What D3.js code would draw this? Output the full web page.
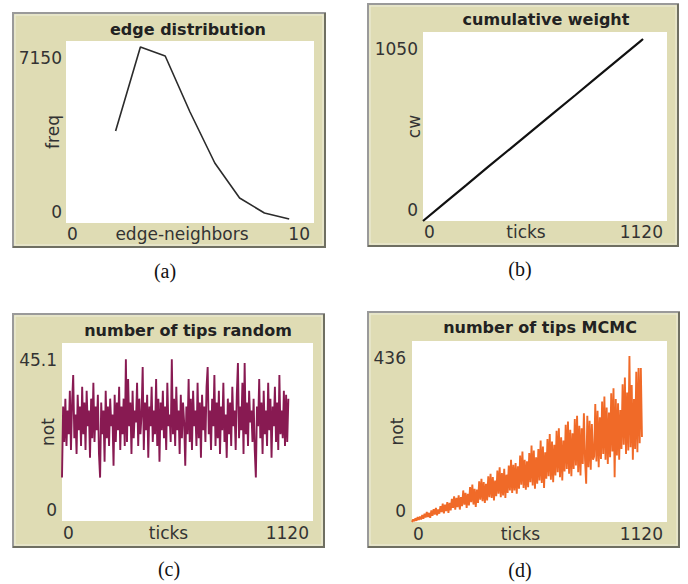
<!DOCTYPE html>
<html>
<head>
<meta charset="utf-8">
<script src="https://cdn.jsdelivr.net/npm/d3@7"></script>
<style>
  body { margin: 0; background: #fff; }
  .title { font-family: "DejaVu Sans", sans-serif; font-weight: bold; font-size: 16px; fill: #222; }
  .tick-label { font-family: "DejaVu Sans", sans-serif; font-size: 17px; fill: #333; }
  .caption { font-family: "Liberation Serif", "Times New Roman", serif; font-size: 20px; fill: #111; }
</style>
</head>
<body>
<div id="wrapper"></div>
<script>
// panel (a) edge distribution
const edgeNeighbors = [2, 3, 4, 5, 6, 7, 8, 9];
const edgeFreq = [3614, 6914, 6561, 4361, 2357, 982, 393, 157];

// panel (b) cumulative weight
const cwTicks = [0, 100, 200, 300, 400, 500, 600, 700, 800, 900, 1000, 1010];
const cwValues = [0, 101, 201, 302, 401, 501, 601, 700, 801, 901, 1001, 1011];

// panels (c) and (d), sampled every 5 ticks
const tipsStep = 5;
const tipsRandom = [
  11, 29, 20, 31, 19, 28, 22, 33, 18, 30,
  37, 21, 27, 17, 32, 23, 29, 19, 34, 22,
  30, 18, 33, 24, 28, 16, 31, 21, 35, 20,
  29, 23, 32, 17, 11, 30, 22, 28, 15, 33,
  21, 29, 19, 31, 24, 27, 14, 32, 20, 30,
  23, 34, 18, 29, 22, 31, 19, 41, 20, 36,
  24, 30, 17, 33, 21, 28, 25, 35, 19, 31,
  22, 27, 39, 18, 30, 23, 32, 16, 29, 24,
  34, 20, 28, 22, 36, 19, 31, 15, 30, 23,
  33, 21, 29, 18, 35, 24, 27, 20, 41, 22,
  31, 19, 34, 23, 28, 17, 32, 21, 30, 25,
  14, 29, 22, 36, 20, 31, 18, 33, 24, 28,
  19, 35, 21, 30, 16, 32, 23, 29, 20, 34,
  39, 22, 28, 18, 31, 24, 37, 19, 30, 21,
  33, 17, 29, 23, 35, 20, 27, 16, 31, 22,
  30, 19, 34, 24, 28, 18, 32, 40, 21, 29,
  23, 35, 17, 40, 22, 30, 19, 33, 25, 28,
  20, 31, 18, 11, 29, 24, 36, 21, 30, 17,
  33, 22, 28, 19, 35, 23, 31, 16, 29, 24,
  34, 20, 30, 18, 37, 22, 28, 21, 33, 19,
  32, 20, 31
];
const tipsMCMC = [
  0, 6, 2, 9, 3, 12, 5, 13, 6, 17,
  8, 20, 11, 24, 12, 22, 10, 28, 15, 31,
  18, 34, 16, 30, 20, 38, 24, 44, 21, 42,
  26, 48, 22, 46, 28, 56, 34, 62, 30, 58,
  36, 64, 30, 60, 38, 76, 42, 70, 34, 68,
  40, 84, 48, 90, 42, 80, 36, 78, 46, 98,
  54, 104, 50, 96, 46, 92, 52, 110, 60, 116,
  58, 108, 52, 100, 62, 124, 68, 132, 60, 118,
  64, 128, 58, 114, 70, 136, 76, 150, 70, 138,
  76, 142, 68, 134, 80, 160, 90, 170, 82, 150,
  78, 146, 84, 166, 96, 184, 88, 172, 80, 156,
  92, 176, 100, 196, 94, 182, 82, 168, 104, 200,
  110, 212, 102, 194, 96, 186, 112, 220, 120, 226,
  108, 204, 100, 196, 122, 234, 128, 242, 116, 222,
  110, 214, 128, 248, 136, 256, 120, 232, 112, 226,
  140, 262, 150, 92, 256, 132, 244, 126, 236, 150,
  158, 284, 146, 268, 132, 252, 152, 290, 164, 302,
  150, 276, 140, 264, 156, 310, 170, 322, 108, 296,
  160, 286, 150, 270, 176, 332, 186, 348, 164, 312,
  172, 400, 180, 330, 150, 296, 176, 362, 168, 371,
  190, 371, 205
];

// labels
const panelTitles = ["edge distribution", "cumulative weight", "number of tips random", "number of tips MCMC"];
const xLabels = ["edge-neighbors", "ticks", "ticks", "ticks"];
const yLabels = ["freq", "cw", "not", "not"];
const xMax = [10, 1120, 1120, 1120];
const yMax = [7150, 1050, 45.1, 436];
const captions = ["(a)", "(b)", "(c)", "(d)"];

async function drawChart() {
  const tickAccessor = (d, i) => i * tipsStep;

  const wrapper = d3
    .select("#wrapper")
    .append("svg")
    .attr("width", 688)
    .attr("height", 584);

  // frame + plot boxes for each panel
  const layout = [
    { frame: [13, 13, 312, 234], plot: [66, 41, 248, 182], title: [188, 35], yLab: [62, 53], xBase: 240, cap: [165, 278] },
    { frame: [368, 4, 310, 242], plot: [423, 32, 244, 189], title: [546, 25], yLab: [418, 414], xBase: 238, cap: [520, 276] },
    { frame: [13, 314, 311, 233], plot: [62, 343, 251, 178], title: [188, 336], yLab: [57, 48], xBase: 539, cap: [169, 576] },
    { frame: [368, 312, 311, 235], plot: [412, 341, 255, 181], title: [540, 333], yLab: [406, 397], xBase: 540, cap: [520, 577] },
  ];

  const series = [
    { x: edgeNeighbors, y: edgeFreq, color: "#2b2b2b", width: 1.6 },
    { x: cwTicks, y: cwValues, color: "#111", width: 2.2 },
    { x: tipsRandom.map(tickAccessor), y: tipsRandom, color: "#881a52", width: 1.9 },
    { x: tipsMCMC.map(tickAccessor), y: tipsMCMC, color: "#f06a28", width: 1.9 },
  ];

  layout.forEach((l, k) => {
    const g = wrapper.append("g");
    const [fx, fy, fw, fh] = l.frame;
    const [px, py, pw, ph] = l.plot;

    // beige frame with bevelled border
    g.append("rect")
      .attr("x", fx).attr("y", fy).attr("width", fw).attr("height", fh)
      .attr("fill", "#dfdcb4")
      .attr("stroke", "#9a9a9a")
      .attr("stroke-width", 2);
    g.append("rect")
      .attr("x", fx + 2).attr("y", fy + 2).attr("width", fw - 4).attr("height", fh - 4)
      .attr("fill", "none")
      .attr("stroke", "#eeeddc")
      .attr("stroke-width", 1);
    g.append("path")
      .attr("d", `M${fx + fw},${fy} V${fy + fh} H${fx}`)
      .attr("fill", "none")
      .attr("stroke", "#6f6f62")
      .attr("stroke-width", 2);

    // white plot area
    g.append("rect")
      .attr("x", px).attr("y", py).attr("width", pw).attr("height", ph)
      .attr("fill", "#fff");

    const xScale = d3.scaleLinear().domain([0, xMax[k]]).range([px, px + pw]);
    const yScale = d3.scaleLinear().domain([0, yMax[k]]).range([py + ph, py]);

    // data line
    const s = series[k];
    const pts = s.x.map((x, i) => [x, s.y[i]]);
    g.append("path")
      .datum(pts)
      .attr("fill", "none")
      .attr("stroke", s.color)
      .attr("stroke-width", s.width)
      .attr("stroke-linejoin", "bevel")
      .attr("d", d3.line().x((d) => xScale(d[0])).y((d) => yScale(d[1])));

    // title
    g.append("text")
      .attr("class", "title")
      .attr("x", l.title[0]).attr("y", l.title[1])
      .attr("text-anchor", "middle")
      .text(panelTitles[k]);

    // y tick labels (max at top, 0 at bottom, inset like NetLogo)
    g.append("text")
      .attr("class", "tick-label")
      .attr("x", l.yLab[0])
      .attr("y", yScale(yMax[k]) + 23)
      .attr("text-anchor", "end")
      .text(yMax[k]);
    g.append("text")
      .attr("class", "tick-label")
      .attr("x", l.yLab[0])
      .attr("y", yScale(0) - 5)
      .attr("text-anchor", "end")
      .text(0);

    // y axis name, rotated
    const yMid = py + ph / 2;
    g.append("text")
      .attr("class", "tick-label")
      .attr("transform", `translate(${l.yLab[1] + 6},${yMid}) rotate(-90)`)
      .attr("text-anchor", "middle")
      .text(yLabels[k]);

    // x tick labels
    g.append("text")
      .attr("class", "tick-label")
      .attr("x", xScale(0) + 1)
      .attr("y", l.xBase)
      .text(0);
    g.append("text")
      .attr("class", "tick-label")
      .attr("x", xScale(xMax[k]) - 4)
      .attr("y", l.xBase)
      .attr("text-anchor", "end")
      .text(xMax[k]);
    g.append("text")
      .attr("class", "tick-label")
      .attr("x", k == 0 ? 182 : (xScale(0) + xScale(xMax[k])) / 2 - 19)
      .attr("y", l.xBase)
      .attr("text-anchor", "middle")
      .text(xLabels[k]);

    // caption
    wrapper.append("text")
      .attr("class", "caption")
      .attr("x", l.cap[0]).attr("y", l.cap[1])
      .attr("text-anchor", "middle")
      .text(captions[k]);
  });
}
drawChart();
</script>
</body>
</html>
